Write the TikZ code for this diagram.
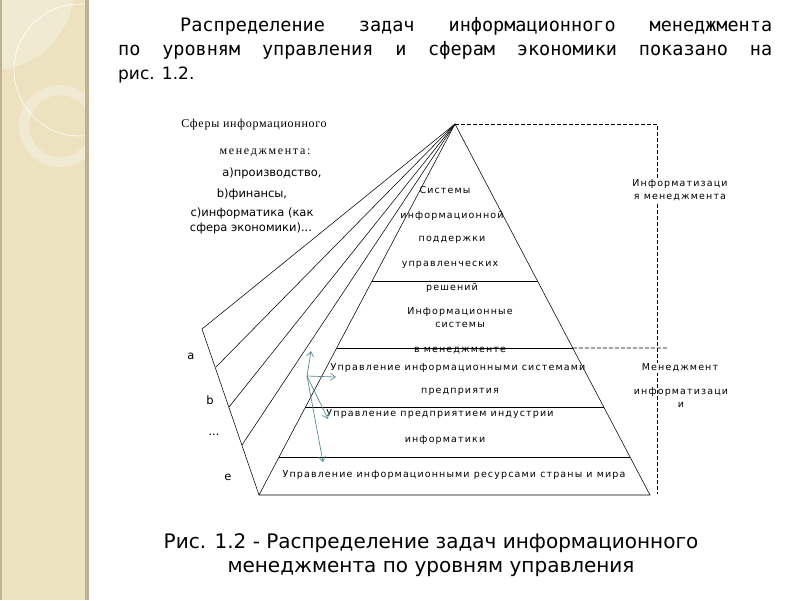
\documentclass[tikz,border=0pt]{standalone}
\usepackage{fontspec}
\setmainfont{DejaVu Sans}
\newfontfamily\headfont{DejaVu Sans Mono}
\newfontfamily\pyrfont[LetterSpace=12]{DejaVu Sans}
\newfontfamily\sphfont[LetterSpace=6]{Liberation Serif}
\usetikzlibrary{arrows.meta,calc}
\definecolor{slidebeige}{RGB}{236,226,192}
\definecolor{slideedge}{RGB}{190,178,144}
\definecolor{arrowteal}{RGB}{88,138,148}

\begin{document}
\begin{tikzpicture}[x=1pt,y=-1pt,
  lvl/.style={font=\pyrfont\fontsize{9.5}{13}\selectfont,inner sep=1pt,align=center},
  sph/.style={font=\fontsize{11.5}{13}\selectfont,inner sep=0pt},
  dash line/.style={dash pattern=on 4pt off 2pt,line width=0.8pt},
  fan/.style={line width=0.55pt},
  flow/.style={arrowteal,line width=0.7pt,-{Straight Barb[length=5pt,width=7pt]}}]
\useasboundingbox (0,0) rectangle (800,600);
% slide strip
\fill[slidebeige] (0,0) rectangle (88,600);
\begin{scope}
\clip (0,0) rectangle (86,600);
\fill[white,opacity=0.3] (-8,-12) circle[radius=82pt];
\draw[white,line width=0.6pt] (80,70) circle[radius=66pt];
\draw[white,opacity=0.3,line width=10pt] (60,126) circle[radius=36pt];
\end{scope}
\fill[slideedge] (85,0) rectangle (89,600);
\fill[slideedge] (0,0) rectangle (1.5,600);
% heading text
\node[anchor=base west,font=\headfont\fontsize{18.5}{20}\selectfont,inner sep=0] (intro1) at (180,31)
  {\makebox[592pt][s]{Распределение задач информационного менеджмента}};
\node[anchor=base west,font=\headfont\fontsize{18.5}{20}\selectfont,inner sep=0] (intro2) at (118,55)
  {\makebox[654pt][s]{по уровням управления и сферам экономики показано на}};
\node[anchor=base west,font=\fontsize{17}{20}\selectfont,inner sep=0] (intro3) at (118,79) {рис. 1.2.};
% pyramid corners
\coordinate (top) at (455,124);
\coordinate (bl) at (259,495);
\coordinate (br) at (650,495);
\foreach \t/\n in {0.4232/1,0.6038/2,0.7628/3,0.8976/4}{
  \coordinate (l\n) at ($(top)!\t!(bl)$);
  \coordinate (r\n) at ($(top)!\t!(br)$);
}
% side plane
\coordinate (pc) at (202,329);
\coordinate (e1) at (216,367);
\coordinate (e2) at (229,407);
\coordinate (e3) at (242,445);
\draw[fan] (top) -- (pc) -- (bl);
\foreach \p in {e1,e2,e3}
  \draw[fan] (top) -- (\p);
\draw[fan] (bl) -- (top) -- (br) -- cycle;
\foreach \n in {1,...,4}
  \draw[fan] (l\n) -- (r\n);
% dashed frame
\coordinate (dtop) at (657,124);
\coordinate (dbot) at (657,494);
\coordinate (dmid) at (668,348);
\draw[dash line] (top) -- (dtop) -- (dbot);
\draw[dash line] (r2) -- (dmid);
% level texts
\node[lvl] (sys1) at (445,190) {Системы};
\node[lvl] (sys2) at (452,216) {информационной};
\node[lvl] (sys3) at (452,240) {поддержки};
\node[lvl] (sys4) at (450,265) {управленческих};
\node[lvl] (sys5) at (452,288) {решений};
\node[lvl] (ims) at (460,318) {Информационные\\системы};
\node[lvl] (imm) at (460,350) {в менеджменте};
\node[lvl] (ent1) at (458,368) {Управление информационными системами};
\node[lvl] (ent2) at (460,392) {предприятия};
\node[lvl] (ind1) at (440,414) {Управление предприятием индустрии};
\node[lvl] (ind2) at (445,440) {информатики};
\node[lvl] (res) at (454,475) {Управление информационными ресурсами страны и мира};
\node[lvl,fill=white] (infm) at (680,190) {Информатизаци\\я менеджмента};
\node[lvl,fill=white] (mgr1) at (680,368) {Менеджмент};
\node[lvl] (mgr2) at (681,398) {информатизаци\\и};
% spheres
\node[sph,font=\sphfont\fontsize{12}{13}\selectfont] (sph1) at (254,125) {Сферы информационного};
\node[sph,font=\sphfont\addfontfeature{LetterSpace=14}\fontsize{12}{13}\selectfont] (sph2) at (265,153) {менеджмента:};
\node[sph] (sph3) at (272,173) {a)производство,};
\node[sph] (sph4) at (252,194) {b)финансы,};
\node[sph] (sph5) at (252,213) {c)информатика (как};
\node[sph] (sph6) at (251,228) {сфера экономики)...};
\node[sph] (la) at (191,356) {a};
\node[sph] (lb) at (210,400) {b};
\node[sph] (ld) at (214,435) {...};
\node[sph] (le) at (228,477) {e};
% teal arrows
\coordinate (hub) at (307,376);
\coordinate (au) at (311,351);
\coordinate (ar) at (336,377);
\coordinate (ad) at (328,419);
\coordinate (ab) at (323,462);
\foreach \p in {au,ar,ad,ab}
  \draw[flow] (hub) -- (\p);
% caption
\node[anchor=base,font=\fontsize{20}{24}\selectfont,inner sep=0] (cap1) at (431,548)
  {Рис. 1.2 - Распределение задач информационного};
\node[anchor=base,font=\fontsize{20}{24}\selectfont,inner sep=0] (cap2) at (431,572)
  {менеджмента по уровням управления};
\end{tikzpicture}
\end{document}
